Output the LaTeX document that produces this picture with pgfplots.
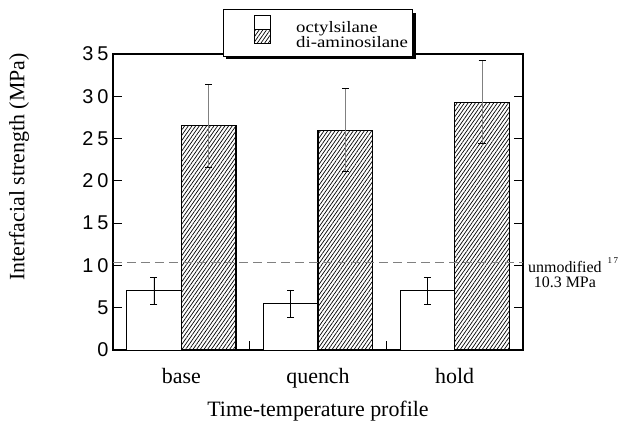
\documentclass[border=0pt]{standalone}
\usepackage{fontspec}
\setmainfont{Liberation Serif}
\newfontfamily\tickfont[LetterSpace=20]{Liberation Sans}
\newfontfamily\legfont[FakeStretch=1.18]{Liberation Serif}
\usepackage{pgfplots}
\pgfplotsset{compat=1.18}
\usetikzlibrary{patterns.meta,shadows,calc}
\makeatletter
\tikzset{no preactions/.code={\let\tikz@preactions\pgfutil@empty}}
\makeatother

\begin{document}
\begin{tikzpicture}
\begin{axis}[name=ax, scale only axis, width=410bp, height=296bp,
  xmin=-0.5, xmax=2.5, ymin=0, ymax=35,
  ybar=0pt, bar width=0.4,
  clip=false,
  axis line style={line width=1.4bp},
  tick style={line width=0.8bp, black},
  tick align=inside, major tick length=9bp,
  ytick={0,5,...,35}, ytick pos=both,
  xtick={0.5,1.5}, xticklabels={}, xtick pos=left,
  extra x ticks={0,1,2}, extra x tick labels={base,quench,hold},
  extra x tick style={major tick length=0pt,
     xticklabel style={anchor=base, yshift=-33bp, font=\fontsize{22}{22}\selectfont}},
  /pgf/number format/assume math mode=true,
  yticklabel style={font=\tickfont\fontsize{20}{20}\selectfont, xshift=-1bp},
  xlabel={Time-temperature profile},
  ylabel={Interfacial strength (MPa)},
  xlabel style={at={(axis description cs:0.5,-0.226)}, anchor=base, font=\fontsize{22}{22}\selectfont},
  ylabel style={at={(axis description cs:-0.229,0.618)}, anchor=center, font=\fontsize{22}{22}\selectfont},
  legend style={at={(0.5,1.152)}, anchor=north, draw=black, line width=1bp, fill=white,
     font=\legfont\fontsize{16}{14}\selectfont, inner xsep=3bp, inner ysep=5bp,
     row sep=-7bp, column sep=23bp,
     drop shadow={shadow xshift=3bp, shadow yshift=-3bp, fill=black, opacity=1}},
  legend cell align=left,
  legend image code/.code={\path[no preactions] (0bp,0bp); \draw[no preactions, #1] (28bp,-1bp) rectangle (44bp,13bp);},
  error bars/y dir=both, error bars/y explicit,
]
\addplot[draw=black, line width=0.8bp, fill=white,
  error bars/error bar style={black, line width=0.8bp},
  error bars/error mark options={rotate=90, black, line width=0.8bp, mark size=3.5bp}]
  coordinates {(0,7.0) +- (0,1.6) (1,5.5) +- (0,1.6) (2,7.0) +- (0,1.6)};
\addlegendentry{octylsilane}
\addplot[draw=black, line width=1.1bp,
  pattern={Lines[angle=55, distance=3bp, line width=0.7bp]},
  error bars/error bar style={gray, line width=0.8bp},
  error bars/error mark options={rotate=90, black, line width=0.8bp, mark size=3.5bp}]
  coordinates {(0,26.5) +- (0,4.9) (1,26.0) +- (0,4.9) (2,29.3) +- (0,4.9)};
\addlegendentry{di-aminosilane}
\addplot[forget plot, sharp plot, gray, line width=0.8bp, dash pattern=on 9bp off 5bp]
  coordinates {(-0.5,10.3) (2.5,10.3)};
\node[anchor=north west, inner sep=0pt, align=center, font=\fontsize{16}{15}\selectfont, xshift=5bp, yshift=6bp]
  at (axis cs:2.5,10.3) {unmodified\rlap{\hspace{6bp}\raisebox{1.3ex}{\fontsize{9}{9}\selectfont 1\,7}}\\10.3 MPa};
\end{axis}
\pgfresetboundingbox
\path[use as bounding box] ($(ax.south west)+(-113bp,-71bp)$) rectangle ($(ax.north east)+(101bp,54bp)$);
\end{tikzpicture}
\end{document}
